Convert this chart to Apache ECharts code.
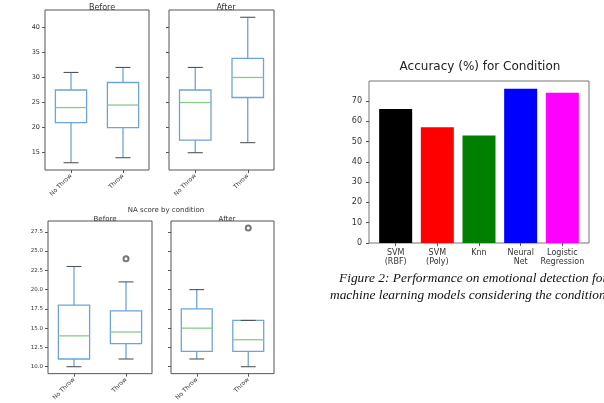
<!DOCTYPE html>
<html>
<head>
<meta charset="utf-8">
<script src="https://cdn.jsdelivr.net/npm/echarts@6/dist/echarts.min.js"></script>
<style>
  html, body { margin: 0; padding: 0; background: #fff; }
  #chart { width: 604px; height: 403px; }
</style>
</head>
<body>
<div id="chart"></div>
<script>
  // box plot data: [min, q1, median, q3, max]
  const boxCats = ['No Throw', 'Throw'];
  const paBefore = [[13, 21, 24, 27.5, 31], [14, 20, 24.5, 29, 32]];
  const paAfter = [[15, 17.5, 25, 27.5, 32], [17, 26, 30, 33.8, 42]];
  const naBefore = [[10, 11, 14, 18, 23], [11, 13, 14.5, 17.25, 21]];
  const naAfter = [[11, 12, 15, 17.5, 20], [10, 12, 13.5, 16, 16]];
  const naBeforeOutliers = [[1, 24]];
  const naAfterOutliers = [[1, 28]];
  const paTicks = [15, 20, 25, 30, 35, 40];
  const naTicks = [10, 12.5, 15, 17.5, 20, 22.5, 25, 27.5];

  // bar chart data
  const models = ['SVM\n(RBF)', 'SVM\n(Poly)', 'Knn', 'Neural\nNet', 'Logistic\nRegression'];
  const accuracy = [66, 57, 53, 76, 74];
  const barColors = ['#000000', '#ff0000', '#008000', '#0000ff', '#ff00ff'];
  const accTicks = [0, 10, 20, 30, 40, 50, 60, 70];

  const mplFont = '"DejaVu Sans", sans-serif';
  const frame = '#555';

  function renderBox(params, api) {
    const x = api.value(0);
    const pMin = api.coord([x, api.value(1)]);
    const pQ1 = api.coord([x, api.value(2)]);
    const pMed = api.coord([x, api.value(3)]);
    const pQ3 = api.coord([x, api.value(4)]);
    const pMax = api.coord([x, api.value(5)]);
    const bw = api.size([1, 0])[0] * 0.6;
    const cw = bw * 0.48;
    const cx = pMed[0];
    const blue = { stroke: '#6ea5d4', lineWidth: 1.3 };
    return {
      type: 'group',
      children: [
        { type: 'line', shape: { x1: cx, y1: pMin[1], x2: cx, y2: pQ1[1] }, style: blue },
        { type: 'line', shape: { x1: cx, y1: pQ3[1], x2: cx, y2: pMax[1] }, style: blue },
        { type: 'rect', shape: { x: cx - bw / 2, y: pQ3[1], width: bw, height: pQ1[1] - pQ3[1] },
          style: { fill: 'none', stroke: '#6ea5d4', lineWidth: 1.3 } },
        { type: 'line', shape: { x1: cx - bw / 2, y1: pMed[1], x2: cx + bw / 2, y2: pMed[1] },
          style: { stroke: '#86cc86', lineWidth: 1.3 } },
        { type: 'line', shape: { x1: cx - cw / 2, y1: pMin[1], x2: cx + cw / 2, y2: pMin[1] },
          style: { stroke: '#555', lineWidth: 1.1 } },
        { type: 'line', shape: { x1: cx - cw / 2, y1: pMax[1], x2: cx + cw / 2, y2: pMax[1] },
          style: { stroke: '#555', lineWidth: 1.1 } }
      ]
    };
  }

  function boxRows(stats) {
    return stats.map(function (s, i) { return [i].concat(s); });
  }

  function catAxis(gridIndex) {
    return {
      type: 'category', gridIndex: gridIndex, data: boxCats,
      axisLine: { show: false },
      axisTick: { show: true, alignWithLabel: true, length: 3, lineStyle: { color: frame } },
      axisLabel: { rotate: 45, fontSize: 6, color: '#333', fontFamily: mplFont, margin: 5 }
    };
  }

  function valAxis(gridIndex, min, max, ticks, showLabels, digits) {
    return {
      type: 'value', gridIndex: gridIndex, min: min, max: max,
      splitLine: { show: false },
      axisLine: { show: false, onZero: false },
      axisTick: { show: true, length: 3, customValues: ticks, lineStyle: { color: frame } },
      axisLabel: {
        show: showLabels, customValues: ticks, fontSize: digits ? 5.5 : 6.5, color: '#333',
        fontFamily: mplFont, margin: 5,
        formatter: function (v) { return digits ? v.toFixed(digits) : String(v); }
      }
    };
  }

  const chart = echarts.init(document.getElementById('chart'));
  chart.setOption({
    animation: false,
    backgroundColor: '#fff',
    title: [
      { text: 'Before', left: 97, top: -1, textAlign: 'center', textStyle: { fontSize: 8, fontWeight: 'normal', color: '#333', fontFamily: mplFont } },
      { text: 'After', left: 221, top: -1, textAlign: 'center', textStyle: { fontSize: 8, fontWeight: 'normal', color: '#333', fontFamily: mplFont } },
      { text: 'NA score by condition', left: 161, top: 202, textAlign: 'center', textStyle: { fontSize: 7, fontWeight: 'normal', color: '#333', fontFamily: mplFont } },
      { text: 'Before', left: 100, top: 211, textAlign: 'center', textStyle: { fontSize: 7, fontWeight: 'normal', color: '#333', fontFamily: mplFont } },
      { text: 'After', left: 222, top: 211, textAlign: 'center', textStyle: { fontSize: 7, fontWeight: 'normal', color: '#333', fontFamily: mplFont } },
      { text: 'Accuracy (%) for Condition', left: 475, top: 56, textAlign: 'center', textStyle: { fontSize: 12, fontWeight: 'normal', color: '#222', fontFamily: mplFont } }
    ],
    grid: [
      { left: 45, top: 10, width: 104, height: 160, show: true, borderColor: frame, borderWidth: 1 },
      { left: 169, top: 10, width: 105, height: 160, show: true, borderColor: frame, borderWidth: 1 },
      { left: 48, top: 221, width: 104, height: 158, show: true, borderColor: frame, borderWidth: 1 },
      { left: 171, top: 221, width: 103, height: 158, show: true, borderColor: frame, borderWidth: 1 },
      { left: 369, top: 81, width: 220, height: 162, show: true, borderColor: '#777', borderWidth: 1 }
    ],
    xAxis: [
      catAxis(0), catAxis(1), catAxis(2), catAxis(3),
      {
        type: 'value', gridIndex: 4, min: -0.64, max: 4.64,
        splitLine: { show: false }, axisLine: { show: false, onZero: false },
        axisTick: { show: true, length: 3, customValues: [0, 1, 2, 3, 4], lineStyle: { color: '#555' } },
        axisLabel: {
          customValues: [0, 1, 2, 3, 4], fontSize: 8, lineHeight: 9.5, color: '#333', fontFamily: mplFont, margin: 5,
          formatter: function (v) { return models[Math.round(v)]; }
        }
      }
    ],
    yAxis: [
      valAxis(0, 11.55, 43.45, paTicks, true, 0),
      valAxis(1, 11.55, 43.45, paTicks, false, 0),
      valAxis(2, 9.1, 28.9, naTicks, true, 1),
      valAxis(3, 9.1, 28.9, naTicks, false, 1),
      {
        type: 'value', gridIndex: 4, min: 0, max: 79.8,
        splitLine: { show: false }, axisLine: { show: false, onZero: false },
        axisTick: { show: true, length: 3, customValues: accTicks, lineStyle: { color: '#555' } },
        axisLabel: {
          customValues: accTicks, fontSize: 8, color: '#333', fontFamily: mplFont, margin: 7
        }
      }
    ],
    series: [
      { type: 'custom', xAxisIndex: 0, yAxisIndex: 0, renderItem: renderBox, data: boxRows(paBefore) },
      { type: 'custom', xAxisIndex: 1, yAxisIndex: 1, renderItem: renderBox, data: boxRows(paAfter) },
      { type: 'custom', xAxisIndex: 2, yAxisIndex: 2, renderItem: renderBox, data: boxRows(naBefore) },
      { type: 'custom', xAxisIndex: 3, yAxisIndex: 3, renderItem: renderBox, data: boxRows(naAfter) },
      { type: 'scatter', xAxisIndex: 2, yAxisIndex: 2, symbol: 'emptyCircle', symbolSize: 5,
        itemStyle: { color: '#555', borderWidth: 1 }, data: naBeforeOutliers },
      { type: 'scatter', xAxisIndex: 3, yAxisIndex: 3, symbol: 'emptyCircle', symbolSize: 5,
        itemStyle: { color: '#555', borderWidth: 1 }, data: naAfterOutliers },
      {
        type: 'bar', xAxisIndex: 4, yAxisIndex: 4, barWidth: 33,
        data: accuracy.map(function (v, i) {
          return { value: [i, v], itemStyle: { color: barColors[i] } };
        })
      }
    ],
    graphic: [
      { type: 'text', left: 339, top: 272, style: { text: 'Figure 2: Performance on emotional detection for', font: 'italic 13.4px "Liberation Serif"', fill: '#111' } },
      { type: 'text', left: 330, top: 289, style: { text: 'machine learning models considering the condition', font: 'italic 13.4px "Liberation Serif"', fill: '#111' } }
    ]
  });
</script>
</body>
</html>
